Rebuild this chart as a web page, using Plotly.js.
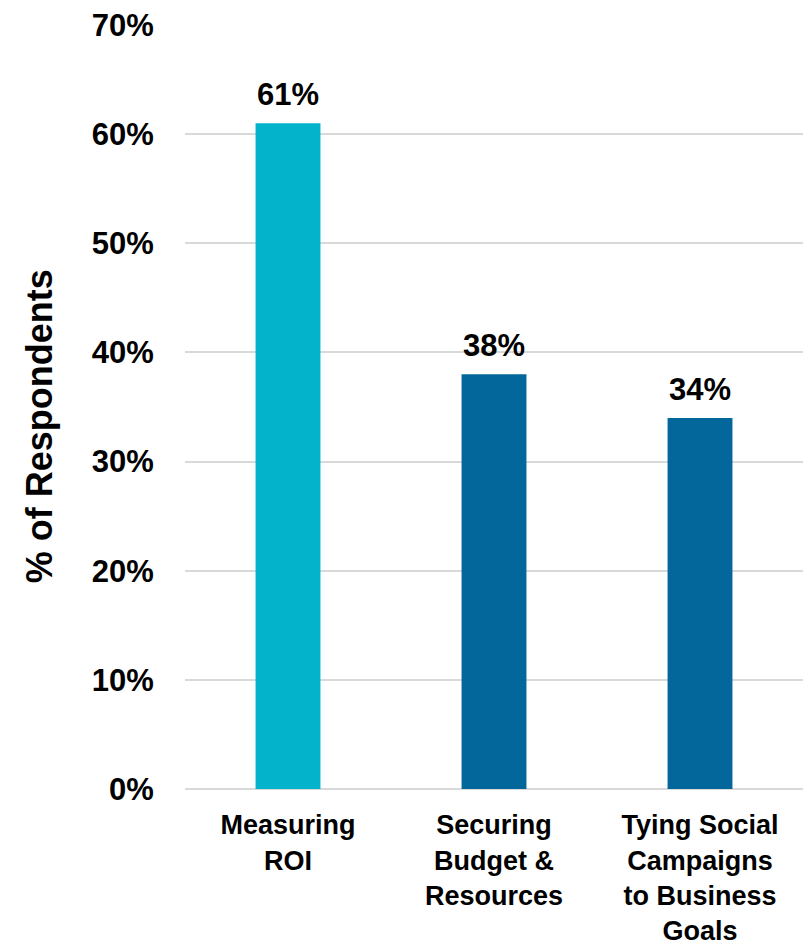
<!DOCTYPE html>
<html>
<head>
<meta charset="utf-8">
<script src="https://cdn.plot.ly/plotly-3.0.1.min.js"></script>
<style>html,body{margin:0;padding:0;background:#fff;}#chart{width:808px;height:949px;}</style>
</head>
<body>
<div id="chart"></div>
<script>
const categories = ["Measuring<br>ROI", "Securing<br>Budget &<br>Resources", "Tying Social<br>Campaigns<br>to Business<br>Goals"];
const values = [61, 38, 34];
const barColors = ["#02B3CB", "#03679B", "#03679B"];
const yTickVals = [0, 10, 20, 30, 40, 50, 60, 70];
const yTickText = ["0%", "10%", "20%", "30%", "40%", "50%", "60%", "70%"];
const yTitle = "% of Respondents";

const FONT = "'Liberation Sans', Arial, sans-serif";

const trace = {
  type: "bar",
  x: categories,
  y: values,
  marker: {color: barColors},
  width: 0.315,
  hoverinfo: "none"
};

const annotations = categories.map((c, i) => ({
  x: c, y: values[i], xref: "x", yref: "y",
  text: "<b>" + values[i] + "%</b>",
  showarrow: false, yanchor: "bottom", yshift: 9,
  font: {family: FONT, size: 31, color: "#000"}
}));

annotations.push({
  xref: "paper", yref: "paper",
  x: -0.236, y: 0.475,
  xanchor: "center", yanchor: "middle",
  text: "<b>" + yTitle + "</b>",
  textangle: -90, showarrow: false,
  font: {family: FONT, size: 36, color: "#000"}
});

const layout = {
  width: 808, height: 949,
  margin: {l: 185, r: 5, t: 25, b: 160},
  paper_bgcolor: "#fff", plot_bgcolor: "#fff",
  showlegend: false,
  bargap: 0.685,
  font: {family: FONT, color: "#000"},
  xaxis: {
    type: "category",
    tickfont: {family: FONT, size: 27, color: "#000", weight: "bold"},
    ticks: "outside", ticklen: 12, tickcolor: "rgba(0,0,0,0)",
    showline: false, showgrid: false, zeroline: false,
    fixedrange: true
  },
  yaxis: {
    range: [0, 70],
    tickvals: yTickVals,
    ticktext: yTickText,
    tickfont: {family: FONT, size: 31, color: "#000", weight: "bold"},
    ticks: "outside", ticklen: 24, tickcolor: "rgba(0,0,0,0)",
    showgrid: true, gridcolor: "#D9D9D9", gridwidth: 2,
    zeroline: true, zerolinecolor: "#D9D9D9", zerolinewidth: 2,
    showline: false,
    fixedrange: true
  },
  annotations: annotations
};

Plotly.newPlot("chart", [trace], layout, {staticPlot: true, displayModeBar: false});
</script>
</body>
</html>
